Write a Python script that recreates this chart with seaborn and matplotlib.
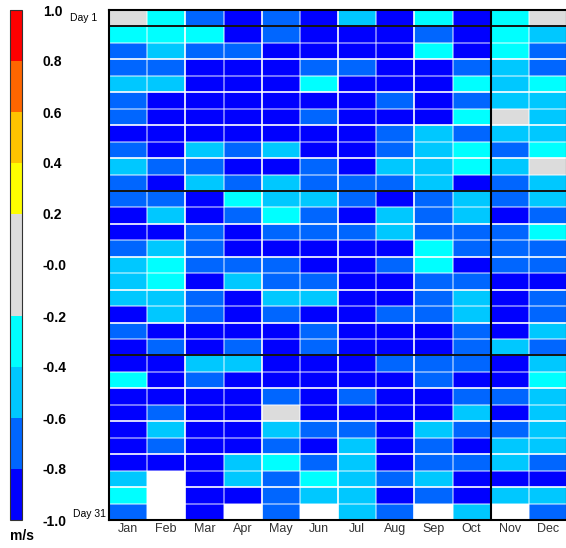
import matplotlib
matplotlib.use('Agg')
import matplotlib.pyplot as plt
from matplotlib.colors import ListedColormap, BoundaryNorm
import numpy as np
import pandas as pd
import seaborn as sns

plt.rcParams['font.family'] = ['Liberation Sans', 'DejaVu Sans']

nan = np.nan

months = ['Jan', 'Feb', 'Mar', 'Apr', 'May', 'Jun', 'Jul', 'Aug', 'Sep', 'Oct', 'Nov', 'Dec']
days = list(range(1, 32))

# daily values (m/s)
jan = [0.0, -0.3, -0.7, -0.7, -0.5, -0.7, -0.7, -0.9, -0.7, -0.5,
       -0.7, -0.7, -0.9, -0.9, -0.7, -0.5, -0.5, -0.5, -0.9, -0.7,
       -0.9, -0.9, -0.3, -0.9, -0.9, -0.9, -0.9, -0.9, -0.5, -0.3,
       -0.7]
feb = [-0.3, -0.3, -0.5, -0.7, -0.5, -0.9, -0.9, -0.9, -0.9, -0.7,
       -0.9, -0.7, -0.5, -0.9, -0.5, -0.3, -0.3, -0.5, -0.5, -0.9,
       -0.7, -0.9, -0.9, -0.9, -0.7, -0.5, -0.7, -0.9, nan, nan,
       nan]
mar = [-0.7, -0.3, -0.7, -0.9, -0.9, -0.9, -0.9, -0.9, -0.5, -0.7,
       -0.5, -0.9, -0.9, -0.7, -0.7, -0.7, -0.9, -0.7, -0.7, -0.9,
       -0.9, -0.5, -0.7, -0.9, -0.9, -0.9, -0.9, -0.9, -0.9, -0.9,
       -0.9]
apr = [-0.9, -0.9, -0.7, -0.9, -0.9, -0.9, -0.9, -0.9, -0.7, -0.9,
       -0.7, -0.3, -0.7, -0.9, -0.9, -0.7, -0.5, -0.9, -0.9, -0.9,
       -0.7, -0.5, -0.9, -0.9, -0.9, -0.9, -0.9, -0.5, -0.5, -0.9,
       nan]
may = [-0.7, -0.7, -0.9, -0.9, -0.9, -0.9, -0.9, -0.9, -0.5, -0.9,
       -0.5, -0.5, -0.3, -0.7, -0.9, -0.7, -0.7, -0.5, -0.7, -0.9,
       -0.9, -0.9, -0.9, -0.7, 0.0, -0.5, -0.7, -0.3, -0.7, -0.7,
       -0.7]
jun = [-0.9, -0.9, -0.9, -0.7, -0.3, -0.9, -0.7, -0.9, -0.9, -0.7,
       -0.7, -0.5, -0.7, -0.7, -0.9, -0.9, -0.7, -0.5, -0.9, -0.7,
       -0.7, -0.9, -0.9, -0.9, -0.9, -0.7, -0.9, -0.7, -0.3, -0.5,
       nan]
jul = [-0.5, -0.9, -0.9, -0.7, -0.9, -0.9, -0.9, -0.9, -0.9, -0.9,
       -0.7, -0.7, -0.9, -0.7, -0.9, -0.9, -0.9, -0.9, -0.9, -0.9,
       -0.9, -0.9, -0.9, -0.7, -0.9, -0.7, -0.5, -0.5, -0.5, -0.5,
       -0.5]
aug = [-0.9, -0.9, -0.9, -0.9, -0.9, -0.7, -0.9, -0.7, -0.7, -0.5,
       -0.7, -0.9, -0.5, -0.5, -0.9, -0.7, -0.9, -0.9, -0.7, -0.9,
       -0.9, -0.7, -0.9, -0.9, -0.9, -0.9, -0.9, -0.9, -0.7, -0.9,
       -0.7]
sep = [-0.3, -0.7, -0.3, -0.9, -0.9, -0.9, -0.9, -0.5, -0.5, -0.5,
       -0.5, -0.7, -0.7, -0.7, -0.3, -0.3, -0.7, -0.7, -0.7, -0.9,
       -0.9, -0.7, -0.7, -0.9, -0.9, -0.5, -0.7, -0.7, -0.5, -0.7,
       nan]
oct_ = [-0.9, -0.9, -0.9, -0.7, -0.3, -0.7, -0.3, -0.7, -0.3, -0.3,
        -0.9, -0.5, -0.5, -0.7, -0.7, -0.9, -0.7, -0.5, -0.5, -0.7,
        -0.7, -0.7, -0.9, -0.7, -0.5, -0.7, -0.9, -0.7, -0.9, -0.9,
        -0.5]
nov = [-0.3, -0.3, -0.3, -0.5, -0.5, -0.5, 0.0, -0.5, -0.7, -0.5,
       -0.7, -0.7, -0.9, -0.7, -0.7, -0.7, -0.9, -0.9, -0.9, -0.9,
       -0.5, -0.9, -0.9, -0.7, -0.9, -0.7, -0.5, -0.5, -0.9, -0.5,
       nan]
dec = [0.0, -0.5, -0.7, -0.7, -0.3, -0.5, -0.5, -0.5, -0.3, 0.0,
       -0.5, -0.5, -0.7, -0.3, -0.7, -0.7, -0.9, -0.7, -0.7, -0.5,
       -0.7, -0.5, -0.3, -0.5, -0.5, -0.5, -0.5, -0.7, -0.9, -0.5,
       -0.7]

cbar_ticks = [-1.0, -0.8, -0.6, -0.4, -0.2, 0.0, 0.2, 0.4, 0.6, 0.8, 1.0]
cbar_labels = ['-1.0', '-0.8', '-0.6', '-0.4', '-0.2', '-0.0', '0.2', '0.4', '0.6', '0.8', '1.0']

df = pd.DataFrame(dict(zip(months, [jan, feb, mar, apr, may, jun, jul, aug, sep, oct_, nov, dec])),
                  index=days)

colors = ['#0000ff', '#0066ff', '#00c8ff', '#00ffff', '#dcdcdc',
          '#dcdcdc', '#ffff00', '#ffc400', '#ff6600', '#ff0000']
cmap = ListedColormap(colors)
norm = BoundaryNorm(cbar_ticks, cmap.N)

fig = plt.figure(figsize=(5.66, 5.48), dpi=100)
ax = fig.add_axes([109 / 566, 28 / 548, 458 / 566, 510 / 548])
cax = fig.add_axes([10 / 566, 28 / 548, 12 / 566, 510 / 548])

sns.heatmap(df, ax=ax, cbar_ax=cax, cmap=cmap, norm=norm, linewidths=0,
            cbar_kws={'ticks': cbar_ticks})

# cell separators
for i in range(1, 31):
    ax.axhline(i, color='white', lw=1.2, alpha=1.0 if i % 2 else 0.55)
for j in range(1, 12):
    ax.axvline(j, color='white', lw=1.2, alpha=0.55 if j % 2 else 1.0)

# black dividers
for i in [1, 11, 21]:
    ax.axhline(i, color='black', lw=1.3)
ax.axvline(10, color='black', lw=1.5)
for s in ax.spines.values():
    s.set_visible(True)
    s.set_color('black')
    s.set_linewidth(1.5)

ax.set_yticks([])
ax.set_ylabel('')
ax.set_xlabel('')
ax.set_xticklabels(months, rotation=0, fontsize=9, color='#333333')
ax.tick_params(axis='x', length=0, pad=2)

cb = ax.collections[0].colorbar
cb.outline.set_linewidth(0.8)
cb.outline.set_edgecolor('#333333')
cb.set_ticks(cbar_ticks)
cb.set_ticklabels(cbar_labels)
cax.tick_params(length=0, pad=15, labelsize=10)
for t in cax.get_yticklabels():
    t.set_fontweight('bold')

fig.text(97 / 566, 1 - 18 / 548, 'Day 1', ha='right', va='center', fontsize=7.5)
fig.text(106 / 566, 1 - 514 / 548, 'Day 31', ha='right', va='center', fontsize=7.5)
fig.text(10 / 566, 1 - 536 / 548, 'm/s', ha='left', va='center', fontsize=10, fontweight='bold')

plt.savefig('out.png', dpi=100)
